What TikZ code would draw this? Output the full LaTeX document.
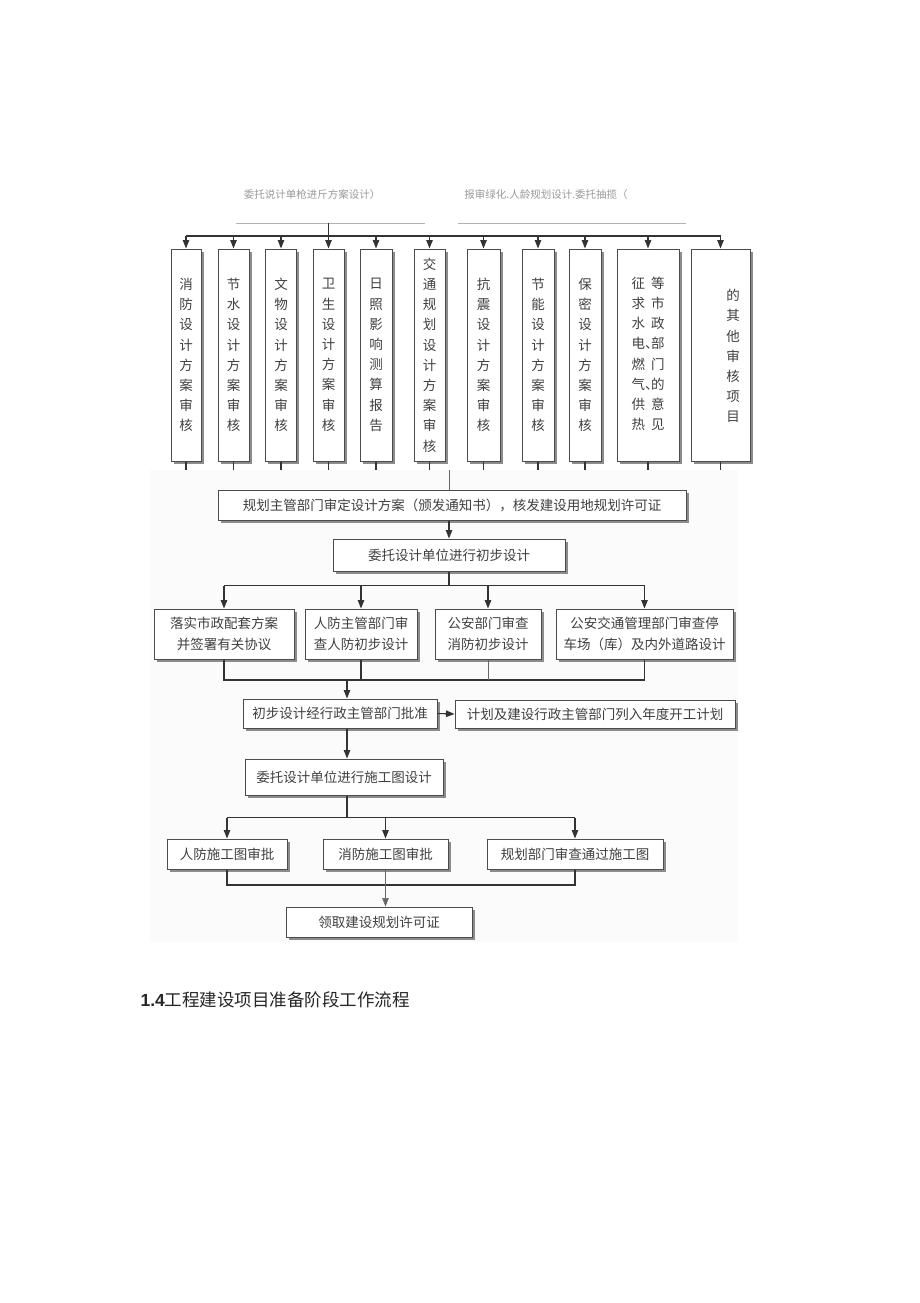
\documentclass[tikz,border=0pt]{standalone}
\usepackage{fontspec}
\setmainfont{Noto Sans CJK SC}
\newfontfamily\numfont{Liberation Sans}
\usetikzlibrary{arrows.meta,shadows}

\begin{document}
\begin{tikzpicture}[
        x=1pt, y=-1pt,
        box/.style={draw=black!70, line width=1pt, fill=white, inner sep=0pt,
            text=black!75, align=center, font=\fontsize{13.5}{21}\selectfont,
            drop shadow={shadow xshift=2.5pt, shadow yshift=-2.5pt, opacity=1, fill=black!45}},
        vbox/.style={box, minimum width=31pt, minimum height=212pt,
            font=\fontsize{13.5}{20.2}\selectfont},
        line/.style={draw=black!80, line width=1.1pt},
        arr/.style={line, -{Triangle[width=6.5pt,length=8.5pt]}},
        thinline/.style={draw=black!60, line width=0.6pt},
        head/.style={text=black!40, font=\fontsize{10.5}{12}\selectfont}
    ]
    \useasboundingbox (0,0) rectangle (920,1303);
    \fill[black!1.5] (150,470) rectangle (738,942);

    \node[head] (h1) at (312,195) {委托说计单枪进斤方案设计）};
    \node[head] (h2) at (546,195) {报审绿化.人龄规划设计.委托抽揽（};
    \draw[black!30, line width=0.8pt] (236,223) -- (425,223);
    \draw[black!30, line width=0.8pt] (458,223) -- (686,223);

    \node[vbox, minimum width=30pt] (v1) at (186,355) {消\\防\\设\\计\\方\\案\\审\\核};
    \node[vbox] (v2) at (233.5,355) {节\\水\\设\\计\\方\\案\\审\\核};
    \node[vbox] (v3) at (281,355) {文\\物\\设\\计\\方\\案\\审\\核};
    \node[vbox] (v4) at (328.5,355) {卫\\生\\设\\计\\方\\案\\审\\核};
    \node[vbox, minimum width=32pt] (v5) at (376,355) {日\\照\\影\\响\\测\\算\\报\\告};
    \node[vbox] (v6) at (429.5,355) {交\\通\\规\\划\\设\\计\\方\\案\\审\\核};
    \node[vbox, minimum width=33pt] (v7) at (483.5,355) {抗\\震\\设\\计\\方\\案\\审\\核};
    \node[vbox, minimum width=32pt] (v8) at (538,355) {节\\能\\设\\计\\方\\案\\审\\核};
    \node[vbox, minimum width=32pt] (v9) at (585,355) {保\\密\\设\\计\\方\\案\\审\\核};
    \node[vbox, minimum width=62pt] (v10) at (648,355) {%
        \begin{tabular}{@{}c@{\hspace{6pt}}c@{}}
            征 & 等 \\ 求 & 市 \\ 水 & 政 \\ 电\rlap{、} & 部 \\
            燃 & 门 \\ 气\rlap{、} & 的 \\ 供 & 意 \\ 热 & 见
        \end{tabular}};
    \node[vbox, minimum width=59pt] (v11) at (720.5,355) {};
    \node[text=black!75, align=center, font=\fontsize{13.5}{20.2}\selectfont] (v11t) at (733,356)
        {的\\其\\他\\审\\核\\项\\目};

    \coordinate (hline) at (328,223);
    \coordinate (bus) at (328,236);
    \draw[line] (v1.north |- bus) -- (v11.north |- bus);
    \foreach \n in {1,2,3,5,6,7,8,9,10,11}
        \draw[arr] (v\n.north |- bus) -- (v\n.north);
    \draw[arr] (v4.north |- hline) -- (v4.north);
    \foreach \n in {1,...,11}
        \draw[line] (v\n.south) -- ++(0,8);

    \node[box, minimum width=468pt, minimum height=30pt] (approve) at (452,505)
        {规划主管部门审定设计方案（颁发通知书），核发建设用地规划许可证};
    \node[box, minimum width=232pt, minimum height=32pt] (prelim) at (449,555)
        {委托设计单位进行初步设计};

    \node[box, minimum width=140pt, minimum height=50pt] (muni) at (224,634)
        {落实市政配套方案\\并签署有关协议};
    \node[box, minimum width=112pt, minimum height=50pt] (civil) at (361,634)
        {人防主管部门审\\查人防初步设计};
    \node[box, minimum width=106pt, minimum height=50pt] (fire) at (488,634)
        {公安部门审查\\消防初步设计};
    \node[box, minimum width=177pt, minimum height=50pt] (traffic) at (644.5,634)
        {公安交通管理部门审查停\\车场（库）及内外道路设计};

    \node[box, minimum width=194pt, minimum height=29pt] (ok) at (340,713.5)
        {初步设计经行政主管部门批准};
    \node[box, minimum width=280pt, minimum height=28pt] (annual) at (595,714)
        {计划及建设行政主管部门列入年度开工计划};
    \node[box, minimum width=198pt, minimum height=36pt] (cdesign) at (344,777)
        {委托设计单位进行施工图设计};

    \node[box, minimum width=120pt, minimum height=30pt] (cd1) at (227,854) {人防施工图审批};
    \node[box, minimum width=125pt, minimum height=30pt] (cd2) at (385.5,854) {消防施工图审批};
    \node[box, minimum width=176pt, minimum height=30pt] (cd3) at (575,854) {规划部门审查通过施工图};
    \node[box, minimum width=186pt, minimum height=30pt] (permit) at (379,922) {领取建设规划许可证};

    \draw[thinline] (prelim.north |- approve.north) -- ++(0,-20);
    \draw[arr] (prelim.north |- approve.south) -- (prelim.north);
    \draw[line] (prelim.south) -- ++(0,14) coordinate (b2);
    \draw[line] (muni.north |- b2) -- (traffic.north |- b2);
    \foreach \n in {muni,civil,fire,traffic}
        \draw[arr] (\n.north |- b2) -- (\n.north);

    \coordinate (b3) at (347,680);
    \draw[line] (muni.south) -- (muni.south |- b3) -- (traffic.south |- b3) -- (traffic.south);
    \draw[line] (civil.south) -- (civil.south |- b3);
    \draw[thinline] (fire.south) -- (fire.south |- b3);
    \draw[arr] (b3) -- (b3 |- ok.north);
    \draw[arr] (ok.east) -- (annual.west);
    \draw[arr] (b3 |- ok.south) -- (b3 |- cdesign.north);

    \draw[line] (b3 |- cdesign.south) -- ++(0,22) coordinate (b4);
    \draw[line] (cd1.north |- b4) -- (cd3.north |- b4);
    \foreach \n in {cd1,cd2,cd3}
        \draw[arr] (\n.north |- b4) -- (\n.north);

    \coordinate (b5) at (381,885);
    \draw[line] (cd1.south) -- (cd1.south |- b5) -- (cd3.south |- b5) -- (cd3.south);
    \draw[thinline, -{Triangle[width=6.5pt,length=8.5pt]}] (cd2.south) -- (cd2.south |- permit.north);

    \node[anchor=west, text=black!85, font=\fontsize{17.5}{20}\selectfont] (title) at (137,1000)
        {{\numfont\bfseries 1.4}工程建设项目准备阶段工作流程};
\end{tikzpicture}
\end{document}
